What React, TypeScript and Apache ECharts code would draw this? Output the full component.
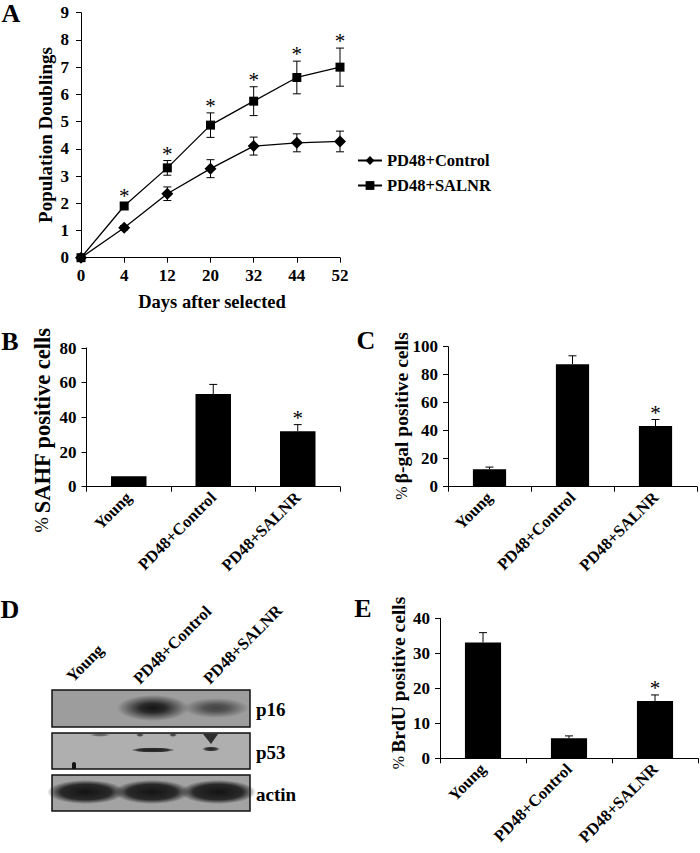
import React, { useEffect, useRef } from "react";
import * as echarts from "echarts";

const FONT = '"Liberation Serif", "Times New Roman", serif';

// Panel A
const dayLabels = ["0", "4", "12", "20", "32", "44", "52"];
const controlPD = [0, 1.1, 2.35, 3.27, 4.1, 4.22, 4.27];
const controlErr = [0, 0.08, 0.25, 0.33, 0.33, 0.33, 0.38];
const salnrPD = [0, 1.9, 3.3, 4.87, 5.75, 6.62, 7.0];
const salnrErr = [0, 0.1, 0.27, 0.45, 0.53, 0.6, 0.7];
const salnrSig = [0, 1, 1, 1, 1, 1, 1];

// Bar panels
const groups = ["Young", "PD48+Control", "PD48+SALNR"];
const sahfValues = [6, 53.5, 32];
const sahfErr = [0, 5.5, 3.8];
const bgalValues = [12.4, 87.5, 43.3];
const bgalErr = [1.6, 6, 4.7];
const brduValues = [33.1, 5.7, 16.4];
const brduErr = [2.8, 0.7, 1.7];
const sigFlags = [0, 0, 1];

// Blot
const blotRows = ["p16", "p53", "actin"];

function errRender(both: boolean, capHalf: number, starSize: number, starGap: number) {
  return (params: any, api: any) => {
    const xi = api.value(0);
    const v = api.value(1);
    const e = api.value(2);
    const sig = api.value(3);
    const top = api.coord([xi, v + e]);
    const bot = api.coord([xi, both ? v - e : v]);
    const st = { stroke: "#000", lineWidth: 1 };
    const children: any[] = [];
    if (e > 0) {
      children.push({ type: "line", shape: { x1: top[0], y1: top[1], x2: bot[0], y2: bot[1] }, style: st });
      children.push({ type: "line", shape: { x1: top[0] - capHalf, y1: top[1], x2: top[0] + capHalf, y2: top[1] }, style: st });
      if (both) {
        children.push({ type: "line", shape: { x1: bot[0] - capHalf, y1: bot[1], x2: bot[0] + capHalf, y2: bot[1] }, style: st });
      }
    }
    if (sig) {
      children.push({
        type: "text",
        x: top[0],
        y: top[1] - starGap,
        style: {
          text: "*",
          fontSize: starSize,
          fontFamily: FONT,
          fill: "#000",
          align: "center",
          textAlign: "center",
          verticalAlign: "middle",
          textVerticalAlign: "middle",
        },
      });
    }
    return { type: "group", children };
  };
}

const axisLineStyle = { color: "#000", width: 1 };
const tickLabel = { fontFamily: FONT, fontWeight: "bold" as const, fontSize: 17, color: "#000" };

function valAxis(gridIndex: number, max: number, interval: number, margin: number) {
  return {
    type: "value",
    gridIndex,
    min: 0,
    max,
    interval,
    axisLine: { show: true, lineStyle: axisLineStyle },
    axisTick: { show: true, length: 5, lineStyle: axisLineStyle },
    splitLine: { show: false },
    axisLabel: { ...tickLabel, margin },
  };
}

function groupAxis(gridIndex: number) {
  return {
    type: "category",
    gridIndex,
    data: groups,
    axisLine: { show: true, lineStyle: axisLineStyle },
    axisTick: { show: true, length: 5, lineStyle: axisLineStyle },
    axisLabel: { fontFamily: FONT, fontWeight: "bold", fontSize: 16.5, color: "#000", rotate: 45, margin: 8, interval: 0 },
  };
}

function tx(text: string, x: number, y: number, size: number, extra: any = {}) {
  return {
    type: "text",
    x,
    y,
    rotation: extra.rotation || 0,
    style: {
      text,
      fontFamily: FONT,
      fontWeight: extra.weight || "bold",
      fontSize: size,
      fill: "#000",
      align: extra.align || "center",
      textAlign: extra.align || "center",
      verticalAlign: extra.valign || "middle",
      textVerticalAlign: extra.valign || "middle",
    },
  };
}

function yTitle(main: string, x: number, y: number, size: number) {
  return {
    type: "text",
    x,
    y,
    rotation: Math.PI / 2,
    style: {
      text: "{p|%} {b|" + main + "}",
      align: "center",
      textAlign: "center",
      verticalAlign: "middle",
      textVerticalAlign: "middle",
      rich: {
        p: { fontFamily: FONT, fontSize: size * 0.82, fontWeight: "normal", fill: "#000", color: "#000" },
        b: { fontFamily: FONT, fontSize: size, fontWeight: "bold", fill: "#000", color: "#000" },
      },
    },
  };
}

function radial(r: number, g: number, b: number, a: number, core: number) {
  return {
    type: "radial",
    x: 0.5,
    y: 0.5,
    r: 0.5,
    colorStops: [
      { offset: 0, color: `rgba(${r},${g},${b},${a})` },
      { offset: core, color: `rgba(${r},${g},${b},${a * 0.85})` },
      { offset: 1, color: `rgba(${r},${g},${b},0)` },
    ],
  };
}

function band(cx: number, cy: number, rx: number, ry: number, a: number, core = 0.5) {
  return { type: "ellipse", shape: { cx, cy, rx, ry }, style: { fill: radial(20, 20, 20, a, core) } };
}

function blotGraphics() {
  const left = 52;
  const w = 198;
  const boxes = [
    { y: 690, h: 37, fill: "#9d9d9d" },
    { y: 733, h: 36, fill: "#afafaf" },
    { y: 775, h: 36, fill: "#a3a3a3" },
  ];
  const els: any[] = [];
  boxes.forEach((b) => {
    els.push({ type: "rect", shape: { x: left, y: b.y, width: w, height: b.h }, style: { fill: b.fill } });
  });
  // p16
  els.push(band(153, 708, 36, 13, 1, 0.35));
  els.push(band(216, 708, 33, 10, 0.65, 0.35));
  // p53
  els.push(band(153, 750, 22, 2.6, 0.95, 0.7));
  els.push(band(211, 749, 9, 2.6, 0.9, 0.6));
  els.push({ type: "polygon", shape: { points: [[203, 734], [218, 734], [211, 744]] }, style: { fill: "rgba(25,25,25,0.85)" } });
  els.push(band(100, 735, 10, 1.8, 0.5));
  els.push(band(140, 735, 4, 2, 0.7));
  els.push(band(173, 735, 4, 2, 0.7));
  els.push({ type: "rect", shape: { x: 72, y: 762, width: 4, height: 7, r: [2, 2, 0, 0] }, style: { fill: "#111" } });
  // actin
  els.push(band(86, 792, 39, 12, 1, 0.65));
  els.push(band(152, 792, 38, 12, 1, 0.65));
  els.push(band(218, 792, 38, 12, 1, 0.65));
  boxes.forEach((b) => {
    els.push({ type: "rect", shape: { x: left, y: b.y, width: w, height: b.h }, style: { fill: "none", stroke: "#111", lineWidth: 1.5 } });
  });
  els.push(tx(blotRows[0], 256, 709, 19, { align: "left" }));
  els.push(tx(blotRows[1], 256, 752, 19, { align: "left" }));
  els.push(tx(blotRows[2], 256, 794, 19, { align: "left" }));
  els.push(tx(groups[0], 75, 685, 16.5, { align: "left", valign: "bottom", rotation: Math.PI / 4 }));
  els.push(tx(groups[1], 142, 687, 16.5, { align: "left", valign: "bottom", rotation: Math.PI / 4 }));
  els.push(tx(groups[2], 212, 687, 16.5, { align: "left", valign: "bottom", rotation: Math.PI / 4 }));
  return els;
}

export default function App() {
  const ref = useRef<HTMLDivElement>(null);
  useEffect(() => {
    if (!ref.current) return;
    const chart = echarts.init(ref.current, null, { renderer: "svg" });
    const option: any = {
      animation: false,
      backgroundColor: "#fff",
      legend: {
        orient: "vertical",
        left: 352,
        top: 147,
        itemWidth: 24,
        itemHeight: 11,
        itemGap: 8,
        data: ["PD48+Control", "PD48+SALNR"],
        textStyle: { fontFamily: FONT, fontWeight: "bold", fontSize: 16.5, color: "#000" },
      },
      grid: [
        { left: 81, top: 12.7, width: 259, height: 245 },
        { left: 86.5, top: 348, width: 253.5, height: 138.7 },
        { left: 448, top: 346.7, width: 249, height: 140 },
        { left: 440, top: 618.3, width: 258, height: 140 },
      ],
      xAxis: [
        {
          type: "category",
          gridIndex: 0,
          data: dayLabels,
          boundaryGap: false,
          axisLine: { show: true, lineStyle: axisLineStyle },
          axisTick: { show: true, length: 5, lineStyle: axisLineStyle },
          axisLabel: { ...tickLabel, margin: 9, interval: 0 },
        },
        groupAxis(1),
        groupAxis(2),
        groupAxis(3),
      ],
      yAxis: [valAxis(0, 9, 1, 12), valAxis(1, 80, 20, 10), valAxis(2, 100, 20, 10), valAxis(3, 40, 10, 10)],
      series: [
        {
          type: "line",
          name: "PD48+Control",
          xAxisIndex: 0,
          yAxisIndex: 0,
          data: controlPD,
          symbol: "diamond",
          symbolSize: 12,
          lineStyle: { color: "#000", width: 1.3 },
          itemStyle: { color: "#000" },
          z: 3,
        },
        {
          type: "line",
          name: "PD48+SALNR",
          xAxisIndex: 0,
          yAxisIndex: 0,
          data: salnrPD,
          symbol: "rect",
          symbolSize: 9,
          lineStyle: { color: "#000", width: 1.3 },
          itemStyle: { color: "#000" },
          z: 3,
        },
        {
          type: "custom",
          xAxisIndex: 0,
          yAxisIndex: 0,
          renderItem: errRender(true, 4, 21, 7),
          data: controlPD.map((v, i) => [i, v, controlErr[i], 0]),
          z: 2,
        },
        {
          type: "custom",
          xAxisIndex: 0,
          yAxisIndex: 0,
          renderItem: errRender(true, 4, 21, 7),
          data: salnrPD.map((v, i) => [i, v, salnrErr[i], salnrSig[i]]),
          z: 2,
        },
        { type: "bar", xAxisIndex: 1, yAxisIndex: 1, data: sahfValues, barWidth: "42%", itemStyle: { color: "#000" } },
        {
          type: "custom",
          xAxisIndex: 1,
          yAxisIndex: 1,
          renderItem: errRender(false, 4, 21, 7),
          data: sahfValues.map((v, i) => [i, v, sahfErr[i], sigFlags[i]]),
        },
        { type: "bar", xAxisIndex: 2, yAxisIndex: 2, data: bgalValues, barWidth: "40%", itemStyle: { color: "#000" } },
        {
          type: "custom",
          xAxisIndex: 2,
          yAxisIndex: 2,
          renderItem: errRender(false, 4, 21, 7),
          data: bgalValues.map((v, i) => [i, v, bgalErr[i], sigFlags[i]]),
        },
        { type: "bar", xAxisIndex: 3, yAxisIndex: 3, data: brduValues, barWidth: "42%", itemStyle: { color: "#000" } },
        {
          type: "custom",
          xAxisIndex: 3,
          yAxisIndex: 3,
          renderItem: errRender(false, 4, 21, 7),
          data: brduValues.map((v, i) => [i, v, brduErr[i], sigFlags[i]]),
        },
      ],
      graphic: [
        tx("A", 11, 13, 26),
        tx("B", 10, 341, 26),
        tx("C", 366, 340, 26),
        tx("D", 10, 609, 26),
        tx("E", 363, 608, 26),
        {
          type: "text",
          x: 45,
          y: 135,
          rotation: Math.PI / 2,
          style: {
            text: "Population Doublings",
            fontFamily: FONT,
            fontWeight: "bold",
            fontSize: 19,
            fill: "#000",
            align: "center",
            textAlign: "center",
            verticalAlign: "middle",
            textVerticalAlign: "middle",
          },
        },
        tx("Days after selected", 212, 302, 18.5),
        yTitle("SAHF positive cells", 42, 430, 22.5),
        yTitle("β-gal positive cells", 401, 416, 19.5),
        yTitle("BrdU positive cells", 398, 683, 19.5),
        ...blotGraphics(),
      ],
    };
    chart.setOption(option);
    return () => chart.dispose();
  }, []);
  return <div ref={ref} style={{ position: "absolute", left: 0, top: 0, width: 700, height: 853 }} />;
}
